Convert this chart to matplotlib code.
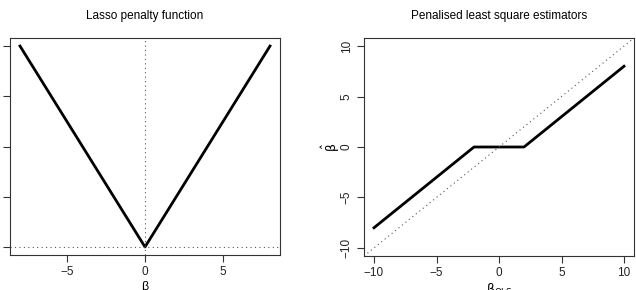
import numpy as np
import matplotlib
matplotlib.use("Agg")
import matplotlib.pyplot as plt

plt.rcParams['font.family'] = ['Liberation Sans', 'DejaVu Sans']
plt.rcParams['mathtext.fontset'] = 'custom'
plt.rcParams['mathtext.rm'] = 'DejaVu Sans'

# Data
beta_left = [-8, 0, 8]
penalty = [8, 0, 8]            # lambda * |beta|, lambda = 1
left_yticks = [0, 2, 4, 6, 8]
left_xticks = [-5, 0, 5]

beta_ols = [-10, -2, 2, 10]
beta_hat = [-8, 0, 0, 8]        # soft thresholding, lambda = 2
right_ticks = [-10, -5, 0, 5, 10]

fig = plt.figure(figsize=(6.36, 2.9), dpi=100)
ax1 = fig.add_axes([10/636, 1-255/290, 270/636, 217/290])
ax2 = fig.add_axes([364/636, 1-256/290, 270/636, 218/290])

dot = (0, (1, 3))
for ax in (ax1, ax2):
    for s in ax.spines.values():
        s.set_linewidth(0.8)
        s.set_color('#333333')
    ax.tick_params(direction='out', length=5, width=0.8, labelsize=8.5, pad=3, colors='#333333', labelcolor='#222222')

# Left panel
ax1.plot(beta_left, penalty, color='black', lw=2)
ax1.axvline(0, color='#555555', lw=0.8, ls=dot)
ax1.axhline(0, color='#555555', lw=0.8, ls=dot)
ax1.set_xlim(-8.64, 8.64)
ax1.set_ylim(-0.32, 8.32)
ax1.set_xticks(left_xticks)
ax1.set_xticklabels(['\u22125', '0', '5'])
ax1.set_yticks(left_yticks)
ax1.set_title('Lasso penalty function', fontsize=8.5, pad=14)
ax1.set_xlabel('\u03b2', fontsize=9, labelpad=2)

# Right panel
ax2.plot(beta_ols, beta_hat, color='black', lw=2)
ax2.axline((0, 0), slope=1, color='#555555', lw=0.8, ls=dot)
ax2.set_xlim(-10.8, 10.8)
ax2.set_ylim(-10.8, 10.8)
ax2.set_xticks(right_ticks)
ax2.set_xticklabels(['\u221210', '\u22125', '0', '5', '10'])
ax2.set_yticks(right_ticks)
ax2.set_yticklabels(['\u221210', '\u22125', '0', '5', '10'], rotation=90, va='center')
ax2.set_title('Penalised least square estimators', fontsize=8.5, pad=14)
ax2.set_xlabel(r'$\mathrm{\beta}_{\mathrm{OLS}}$', fontsize=9, labelpad=1)
ax2.set_ylabel(r'$\hat{\mathrm{\beta}}$', fontsize=9, labelpad=-1)

fig.savefig('out.png', dpi=100)
